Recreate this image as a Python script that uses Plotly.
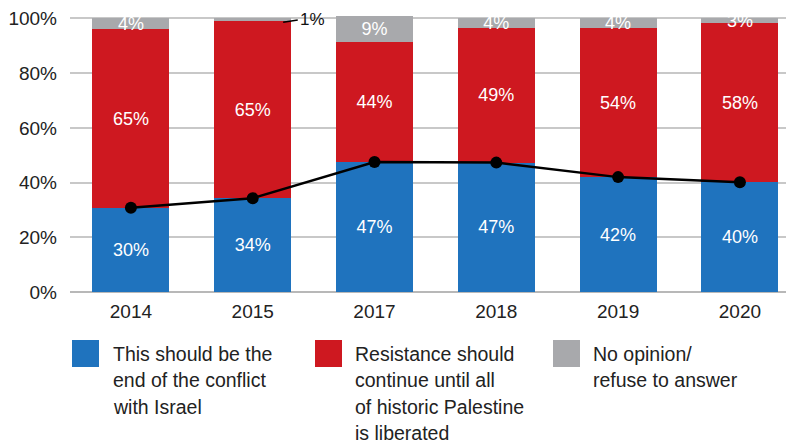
import plotly.graph_objects as go

years = ["2014", "2015", "2017", "2018", "2019", "2020"]
# segment heights as drawn
end_conflict = [30.8, 34.3, 47.5, 47.3, 42.0, 40.1]
resistance = [65.2, 64.6, 43.8, 49.1, 54.4, 58.1]
no_opinion = [4.0, 1.1, 9.7, 3.6, 3.6, 1.8]
# published labels
end_labels = ["30%", "34%", "47%", "47%", "42%", "40%"]
res_labels = ["65%", "65%", "44%", "49%", "54%", "58%"]
no_labels = ["4%", "", "9%", "4%", "4%", "3%"]
small_label = "1%"
small_idx = 1

y_tickvals = [0, 20, 40, 60, 80, 100]
y_ticktext = ["0%", "20%", "40%", "60%", "80%", "100%"]

legend_names = [
    ["This should be the", "end of the conflict", "with Israel"],
    ["Resistance should", "continue until all", "of historic Palestine", "is liberated"],
    ["No opinion/", "refuse to answer"],
]

BLUE = "#1f73be"
RED = "#ce1820"
GRAY = "#a8a9ac"
FONT = "Liberation Sans, Arial, sans-serif"

fig = go.Figure()
bar_common = dict(
    width=0.632,
    textposition="inside",
    insidetextanchor="middle",
    textangle=0,
    constraintext="none",
    textfont=dict(color="white", size=18, family=FONT),
    hoverinfo="skip",
    marker_line_width=0,
)
fig.add_bar(x=years, y=end_conflict, text=end_labels, marker_color=BLUE, **bar_common)
fig.add_bar(x=years, y=resistance, text=res_labels, marker_color=RED, **bar_common)
fig.add_bar(x=years, y=no_opinion, text=no_labels, marker_color=GRAY, **bar_common)
fig.add_scatter(
    x=years, y=end_conflict, mode="lines+markers",
    line=dict(color="black", width=2.5),
    marker=dict(color="black", size=12),
    hoverinfo="skip",
)

# small "1%" callout
top_small = end_conflict[small_idx] + resistance[small_idx] + no_opinion[small_idx]
fig.add_shape(type="line", xref="x", yref="y",
              x0=small_idx + 0.25, x1=small_idx + 0.37,
              y0=top_small - 1.4, y1=top_small - 0.6,
              line=dict(color="black", width=1.5))
fig.add_annotation(x=small_idx + 0.37, y=top_small - 0.3, xref="x", yref="y",
                   text=small_label, showarrow=False, xanchor="left", yanchor="middle",
                   font=dict(size=17, color="#111", family=FONT))

# custom legend (positions in screen pixels, converted to plot-relative paper coords)
L, W, B, H = 70, 723, 292, 279
def px(x):
    return (x - L) / W
def py(y):
    return (B - y) / H

colors = [BLUE, RED, GRAY]
sq_x = [72, 315, 553]
txt_x = [111, 353, 591]
for i, names in enumerate(legend_names):
    fig.add_shape(type="rect", xref="paper", yref="paper",
                  x0=px(sq_x[i]), x1=px(sq_x[i] + 27), y0=py(367), y1=py(340),
                  fillcolor=colors[i], line_width=0)
    for j, line in enumerate(names):
        fig.add_annotation(xref="paper", yref="paper", x=px(txt_x[i]), y=py(354 + 26.3 * j),
                           text=line, showarrow=False, xanchor="left", yanchor="middle",
                           font=dict(size=19.5, color="#222", family=FONT))

fig.update_layout(
    width=794, height=444,
    margin=dict(l=62, r=9, t=5, b=160, autoexpand=False),
    barmode="stack",
    showlegend=False,
    plot_bgcolor="white",
    paper_bgcolor="white",
    font=dict(family=FONT, color="#222"),
)
fig.update_xaxes(
    type="category", range=[-0.5, 5.436], automargin=False,
    showgrid=False, showline=False, ticks="",
    tickfont=dict(size=19, color="#222"),
    ticklabelstandoff=6,
)
fig.update_yaxes(
    range=[0, 102], tickvals=y_tickvals, ticktext=y_ticktext, automargin=False,
    showgrid=True, gridcolor="#c8c8c8", gridwidth=1.5,
    zeroline=True, zerolinecolor="#b8b8b8", zerolinewidth=1.5,
    tickfont=dict(size=19, color="#222"),
    ticklabelstandoff=12,
    ticklabeloverflow="allow",
)
fig.write_html("out.html")
